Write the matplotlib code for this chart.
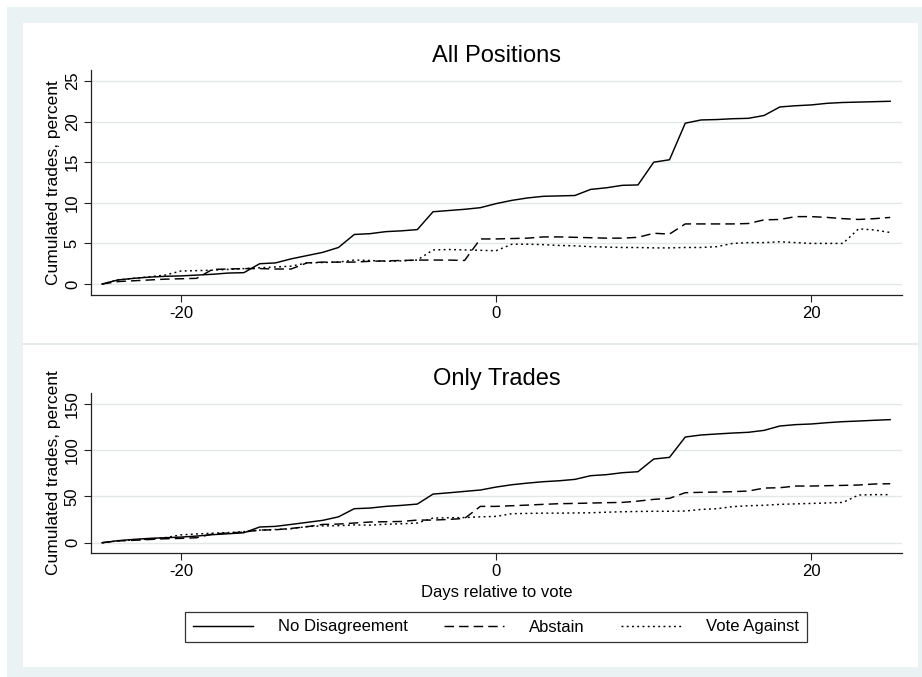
import numpy as np
import matplotlib
matplotlib.use("Agg")
import matplotlib.pyplot as plt
from matplotlib.patches import Rectangle
from matplotlib.lines import Line2D

plt.rcParams['font.family'] = ['Liberation Sans', 'DejaVu Sans']
plt.rcParams['axes.unicode_minus'] = False

days = np.arange(-25, 26)

# cumulated trades (percent), all positions
all_no_disagreement = [
    0, 0.5, 0.7, 0.85, 0.95, 1.0, 1.1, 1.2, 1.35, 1.4,
    2.5, 2.6, 3.1, 3.5, 3.9, 4.5, 6.1, 6.2, 6.45, 6.55,
    6.7, 8.9, 9.05, 9.2, 9.4,
    9.9, 10.3, 10.6, 10.8, 10.85, 10.9, 11.65, 11.85, 12.15, 12.2,
    15.0, 15.3, 19.8, 20.2, 20.25, 20.35, 20.4, 20.75, 21.8, 21.95,
    22.05, 22.25, 22.35, 22.4, 22.45, 22.5]
all_abstain = [
    0, 0.3, 0.4, 0.5, 0.6, 0.65, 0.7, 1.8, 1.85, 1.9,
    1.9, 1.85, 1.85, 2.6, 2.7, 2.7, 2.7, 2.8, 2.85, 2.9,
    2.95, 2.95, 2.95, 2.9, 5.55,
    5.55, 5.6, 5.65, 5.8, 5.8, 5.75, 5.7, 5.65, 5.65, 5.75,
    6.25, 6.15, 7.4, 7.4, 7.4, 7.4, 7.45, 7.9, 7.95, 8.3,
    8.3, 8.2, 8.05, 7.95, 8.05, 8.2]
all_vote_against = [
    0, 0.5, 0.7, 0.9, 1.1, 1.6, 1.65, 1.7, 1.8, 1.9,
    2.0, 2.1, 2.2, 2.6, 2.65, 2.7, 2.95, 2.9, 2.8, 2.85,
    2.95, 4.2, 4.25, 4.2, 4.15,
    4.1, 4.9, 4.9, 4.85, 4.75, 4.7, 4.6, 4.55, 4.5, 4.5,
    4.45, 4.45, 4.5, 4.5, 4.6, 5.0, 5.1, 5.1, 5.2, 5.1,
    5.0, 5.0, 5.0, 6.8, 6.65, 6.35]

# cumulated trades (percent), only trades
trd_no_disagreement = [
    0, 2.2, 3.6, 4.7, 5.4, 6.1, 7.2, 8.7, 9.7, 10.8,
    17.0, 17.7, 19.8, 22.0, 24.2, 28.0, 36.8, 37.5, 39.3, 40.4,
    41.8, 52.6, 54.0, 55.5, 57.0,
    60.2, 62.7, 64.5, 66.0, 67.0, 68.5, 72.5, 73.6, 75.7, 76.8,
    90.5, 92.3, 114.3, 116.5, 117.6, 118.6, 119.4, 121.5, 126.2, 127.7,
    128.4, 129.8, 130.9, 131.6, 132.4, 133.1]
trd_abstain = [
    0, 2.0, 2.6, 3.5, 4.3, 4.7, 5.4, 9.5, 10.5, 11.5,
    13.7, 14.0, 15.5, 17.3, 19.8, 20.2, 21.3, 22.4, 22.7, 23.0,
    24.5, 24.5, 25.2, 26.3, 39.3,
    39.3, 40.0, 40.7, 41.5, 42.2, 42.5, 42.9, 43.3, 43.6, 45.0,
    46.9, 48.0, 54.1, 54.5, 54.8, 55.2, 55.9, 59.1, 59.5, 61.3,
    61.3, 61.7, 62.0, 62.4, 63.5, 63.8]
trd_vote_against = [
    0, 2.0, 3.0, 4.0, 5.5, 8.5, 9.5, 10.3, 11.0, 12.0,
    13.7, 14.3, 15.1, 17.5, 18.2, 18.4, 19.3, 19.0, 20.0, 20.5,
    21.3, 26.7, 27.0, 27.2, 28.0,
    28.5, 31.4, 31.7, 32.0, 32.0, 32.2, 32.4, 33.0, 33.5, 33.8,
    34.0, 34.0, 34.3, 36.0, 36.8, 39.0, 40.0, 40.5, 41.5, 42.0,
    42.5, 43.0, 43.6, 51.6, 52.0, 52.0]

labels = ['No Disagreement', 'Abstain', 'Vote Against']
styles = ['-', (0, (6.5, 3.5)), (0, (1.3, 2.3))]

W, H = 922, 677
fig = plt.figure(figsize=(W / 100, H / 100), dpi=100)

def px_rect(x0, y0, x1, y1, color):
    fig.patches.append(Rectangle((x0 / W, 1 - y1 / H), (x1 - x0) / W, (y1 - y0) / H,
                                 transform=fig.transFigure, facecolor=color,
                                 edgecolor='none', zorder=-10))

# graph region background
px_rect(7, 7, W, H, '#EAF2F3')
px_rect(23, 23, 918, 667, 'white')
fig.lines.append(Line2D([23 / W, 918 / W], [1 - 344 / H] * 2, transform=fig.transFigure,
                        color='#E6EAEC', lw=1.5))


def make_panel(rect, title, series, yticks, ylim):
    ax = fig.add_axes(rect)
    ax.set_facecolor('white')
    for y, ls, lab in zip(series, styles, labels):
        ax.plot(days, y, color='black', linestyle=ls, lw=1.05, label=lab)
    ax.set_xlim(-25.7, 25.75)
    ax.set_ylim(*ylim)
    ax.set_xticks([-20, 0, 20])
    ax.set_yticks(yticks)
    ax.yaxis.grid(True, color='#E3E7E9', lw=1.0)
    ax.set_axisbelow(True)
    for s in ['top', 'right']:
        ax.spines[s].set_visible(False)
    for s in ['left', 'bottom']:
        ax.spines[s].set_linewidth(0.9)
        ax.spines[s].set_color('#222222')
    ax.tick_params(axis='both', length=5, width=0.8, labelsize=12, pad=3, color='#222222')
    plt.setp(ax.get_yticklabels(), rotation=90, va='center')
    ax.set_ylabel('Cumulated trades, percent', fontsize=12.5, labelpad=3)
    ax.set_title(title, fontsize=17, pad=6)
    return ax


ax1 = make_panel([91 / W, 1 - 295 / H, 811 / W, 225 / H], 'All Positions',
                 [all_no_disagreement, all_abstain, all_vote_against],
                 [0, 5, 10, 15, 20, 25], (-1.35, 26.35))
ax2 = make_panel([91 / W, 1 - 553 / H, 811 / W, 160 / H], 'Only Trades',
                 [trd_no_disagreement, trd_abstain, trd_vote_against],
                 [0, 50, 100, 150], (-11.1, 161.9))
ax2.set_xlabel('Days relative to vote', fontsize=12, labelpad=4)

handles, labs = ax1.get_legend_handles_labels()
leg = fig.legend(handles, labs, loc='center', bbox_to_anchor=(496 / W, 1 - 627 / H),
                 ncol=3, fontsize=12, frameon=True, fancybox=False,
                 edgecolor='black', handlelength=3.6, columnspacing=2.2,
                 handletextpad=1.5, borderpad=0.45, borderaxespad=0)
leg.get_frame().set_linewidth(0.9)

fig.savefig('out.png', dpi=100, facecolor='white')
